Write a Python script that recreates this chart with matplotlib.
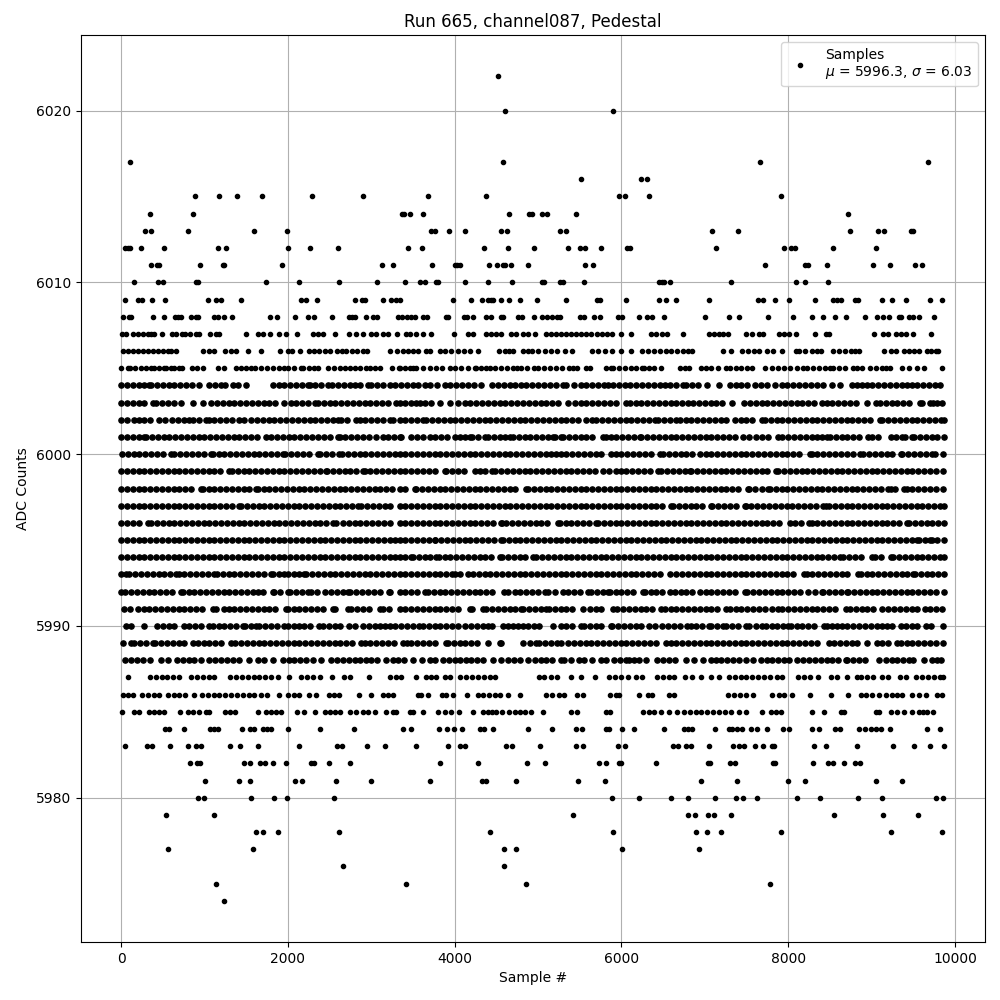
import matplotlib
matplotlib.use("Agg")
import matplotlib.pyplot as plt

# Sample numbers, per ADC level. Where a row is an unbroken band
# the individual samples cannot be told apart, so those rows hold one read position
# about every 70 samples rather than every real sample.
s6022 = [4520]
s6020 = [4604, 5904]
s6017 = [104, 4580, 7656, 9672]
s6016 = [5520, 6240, 6312]
s6015 = [884, 1172, 1388, 1688, 2288, 2900, 3680, 4376, 5976, 6040, 6328, 7908]
s6014 = [344, 860, 3364, 3388, 3464, 3620, 4652, 4892, 4932, 5052, 5112, 5460, 8712]
s6013 = [292, 356, 800, 1592, 1992, 3712, 3760, 3932, 4128, 4552, 4624, 5268, 5340, 7092, 7404, 8736, 9072, 9144, 9472, 9500]
s6012 = [48, 80, 108, 236, 512, 1160, 1256, 2000, 2264, 2600, 3440, 3608, 4352, 4640, 4956, 5364, 5508, 5568, 5760, 6072, 6108, 7140, 7944, 8028, 8076, 8532, 9048]
s6011 = [356, 428, 452, 944, 1220, 1236, 1928, 3128, 3260, 3728, 4008, 4032, 4060, 4412, 4508, 4580, 4604, 4676, 4880, 5568, 5664, 7716, 8196, 8232, 8460, 9012, 9216, 9516, 9600]
s6010 = [152, 440, 500, 896, 920, 1736, 2132, 2612, 3068, 3404, 3584, 3644, 3772, 3796, 4128, 4400, 4688, 5052, 5076, 5268, 5304, 5556, 6456, 6492, 6516, 6588, 7320, 8088, 8196, 8472]
s6009 = [48, 200, 248, 368, 524, 1040, 1136, 1196, 1436, 2156, 2220, 2348, 2804, 2888, 2924, 3140, 3236, 3296, 3344, 3980, 4196, 4328, 4400, 4436, 4460, 4556, 4652, 4784, 4992, 5340, 5712, 5748, 6060, 6456, 6540, 6660, 7056, 7644, 7692, 7836, 8004, 8316, 8532, 8580, 8628, 8796, 8832, 9120, 9240, 9408, 9696, 9840]
s6008 = [20, 100, 120, 380, 512, 648, 684, 720, 836, 896, 920, 1112, 1160, 1232, 1328, 1784, 1868, 2084, 2240, 2312, 2528, 2732, 2768, 2804, 2936, 3020, 3068, 3320, 3368, 3428, 3476, 3524, 3620, 3668, 3900, 3924, 4116, 4152, 4220, 4376, 4436, 4556, 4580, 4760, 4808, 4956, 5052, 5112, 5172, 5232, 5268, 5508, 5552, 5676, 5748, 5964, 6012, 6216, 6312, 6372, 6516, 7008, 7296, 7416, 7752, 8052, 8280, 8412, 8556, 8688, 8916, 9060, 9132, 9204, 9324, 9348, 9444, 9492, 9564, 9744]
s6007 = [12, 60, 140, 200, 260, 320, 360, 400, 492, 612, 660, 732, 772, 828, 900, 932, 1068, 1140, 1172, 1496, 1640, 1700, 1784, 1892, 1980, 2108, 2300, 2360, 2420, 2564, 2732, 2812, 2900, 3000, 3060, 3140, 3200, 3308, 3420, 3460, 3540, 3620, 3720, 3996, 4160, 4220, 4380, 4440, 4500, 4560, 4680, 4740, 4820, 4880, 4968, 5092, 5152, 5212, 5272, 5332, 5392, 5452, 5512, 5572, 5632, 5712, 5772, 5832, 5892, 5992, 6112, 6352, 6420, 6492, 6552, 6740, 7052, 7112, 7172, 7220, 7284, 7492, 7564, 7652, 7692, 7892, 7952, 8012, 8092, 8324, 8452, 8492, 9024, 9132, 9192, 9292, 9352, 9412, 9492, 9716]
s6006 = [20, 80, 140, 200, 260, 320, 380, 440, 500, 560, 600, 660, 980, 1050, 1120, 1250, 1320, 1380, 1520, 1676, 1908, 2000, 2048, 2144, 2252, 2310, 2370, 2440, 2500, 2588, 2650, 2700, 2768, 2830, 2900, 2948, 3228, 3308, 3380, 3440, 3500, 3560, 3652, 3700, 3820, 3890, 3960, 4040, 4110, 4180, 4280, 4532, 4600, 4650, 4700, 4820, 4880, 4930, 5000, 5080, 5150, 5230, 5320, 5410, 5650, 5720, 5800, 5890, 5990, 6120, 6250, 6320, 6390, 6460, 6530, 6600, 6670, 6740, 6800, 6850, 7224, 7320, 7450, 7520, 7590, 7650, 7750, 7820, 7930, 8090, 8130, 8200, 8290, 8340, 8390, 8540, 8610, 8680, 8750, 8800, 8850, 9150, 9230, 9290, 9390, 9450, 9510, 9570, 9670, 9710, 9770, 9800]
s6005 = [0, 80, 108, 170, 240, 300, 360, 400, 460, 520, 540, 600, 640, 690, 730, 850, 910, 980, 1160, 1240, 1380, 1440, 1500, 1560, 1610, 1680, 1750, 1820, 1890, 1950, 2000, 2080, 2160, 2180, 2250, 2310, 2360, 2480, 2550, 2620, 2680, 2740, 2800, 2870, 2940, 2980, 3040, 3100, 3250, 3330, 3340, 3400, 3460, 3500, 3540, 3620, 3700, 3780, 3850, 3940, 4010, 4080, 4160, 4240, 4260, 4320, 4380, 4420, 4490, 4560, 4630, 4700, 4750, 4800, 4870, 4950, 5000, 5070, 5140, 5220, 5290, 5370, 5420, 5470, 5570, 5620, 5820, 5870, 5900, 5970, 6040, 6110, 6180, 6250, 6270, 6330, 6390, 6470, 6700, 6760, 6810, 6960, 7010, 7070, 7160, 7250, 7300, 7370, 7440, 7510, 7570, 7720, 7800, 7880, 7950, 8020, 8100, 8180, 8230, 8300, 8370, 8440, 8500, 8540, 8610, 8680, 8780, 8820, 8890, 8980, 9050, 9120, 9170, 9220, 9370, 9450, 9540, 9625, 9840]
s6004 = [0, 70, 140, 210, 280, 340, 360, 430, 500, 570, 640, 710, 780, 850, 940, 1060, 1130, 1200, 1250, 1340, 1400, 1500, 1820, 1890, 1960, 2030, 2100, 2170, 2240, 2260, 2330, 2400, 2480, 2530, 2600, 2670, 2740, 2800, 2860, 2960, 3000, 3070, 3140, 3220, 3280, 3360, 3430, 3500, 3560, 3640, 3700, 3790, 3880, 3950, 4020, 4090, 4160, 4230, 4320, 4450, 4520, 4590, 4660, 4720, 4800, 4860, 4930, 5000, 5070, 5140, 5210, 5300, 5340, 5430, 5520, 5580, 5650, 5720, 5790, 5840, 5900, 5970, 6040, 6100, 6180, 6250, 6320, 6390, 6460, 6520, 6580, 6660, 6740, 6780, 6850, 6920, 7030, 7170, 7300, 7370, 7440, 7510, 7600, 7670, 7750, 7840, 7920, 7990, 8060, 8130, 8200, 8270, 8340, 8420, 8530, 8620, 8760, 8820, 8880, 8940, 9010, 9080, 9150, 9220, 9290, 9360, 9420, 9480, 9550, 9620, 9690, 9760, 9816]
s6003 = [0, 70, 140, 210, 280, 380, 420, 490, 560, 630, 720, 860, 980, 1080, 1150, 1220, 1290, 1360, 1430, 1500, 1570, 1640, 1710, 1780, 1850, 1960, 2036, 2100, 2170, 2240, 2320, 2360, 2430, 2500, 2570, 2640, 2710, 2780, 2850, 2920, 2990, 3060, 3130, 3200, 3300, 3340, 3410, 3480, 3540, 3580, 3650, 3720, 3820, 3940, 4040, 4120, 4190, 4260, 4330, 4400, 4470, 4540, 4610, 4680, 4750, 4820, 4890, 4960, 5030, 5100, 5170, 5240, 5360, 5440, 5510, 5580, 5650, 5720, 5790, 5860, 5940, 6056, 6100, 6170, 6240, 6310, 6380, 6450, 6520, 6590, 6660, 6730, 6800, 6860, 6930, 7000, 7070, 7140, 7210, 7330, 7470, 7540, 7610, 7680, 7750, 7820, 7890, 7960, 8030, 8100, 8170, 8240, 8310, 8400, 8460, 8530, 8600, 8670, 8740, 8810, 8940, 9050, 9100, 9170, 9240, 9310, 9380, 9450, 9580, 9610, 9700, 9740, 9790, 9850]
s6002 = [0, 70, 160, 220, 280, 350, 460, 524, 610, 680, 750, 820, 868, 940, 1020, 1050, 1120, 1190, 1260, 1330, 1420, 1470, 1560, 1630, 1700, 1770, 1840, 1910, 1980, 2050, 2120, 2190, 2260, 2330, 2400, 2470, 2540, 2600, 2640, 2710, 2820, 2860, 2930, 3000, 3070, 3140, 3220, 3260, 3340, 3410, 3480, 3550, 3620, 3660, 3730, 3800, 3870, 3940, 4010, 4080, 4150, 4220, 4290, 4360, 4430, 4500, 4570, 4640, 4710, 4780, 4850, 4920, 4990, 5060, 5130, 5200, 5270, 5340, 5410, 5480, 5580, 5650, 5700, 5770, 5840, 5910, 5980, 6050, 6120, 6190, 6260, 6330, 6400, 6440, 6510, 6580, 6660, 6700, 6770, 6840, 6910, 6980, 7050, 7120, 7190, 7260, 7360, 7430, 7500, 7570, 7680, 7720, 7790, 7860, 7930, 8000, 8070, 8140, 8210, 8280, 8350, 8420, 8490, 8560, 8630, 8700, 8770, 8840, 8910, 8980, 9100, 9130, 9200, 9270, 9340, 9410, 9480, 9550, 9620, 9690, 9760, 9830, 9865]
s6001 = [0, 70, 140, 210, 280, 300, 370, 440, 510, 580, 650, 720, 790, 860, 930, 1000, 1070, 1140, 1210, 1280, 1350, 1420, 1490, 1560, 1630, 1740, 1800, 1870, 1940, 2010, 2080, 2150, 2220, 2290, 2360, 2430, 2500, 2600, 2620, 2690, 2760, 2830, 2900, 2970, 3060, 3140, 3200, 3270, 3340, 3360, 3480, 3550, 3620, 3700, 3770, 3840, 3910, 4000, 4060, 4120, 4180, 4210, 4280, 4360, 4400, 4470, 4540, 4610, 4660, 4700, 4770, 4840, 4910, 4980, 5050, 5120, 5180, 5200, 5280, 5300, 5370, 5440, 5510, 5580, 5650, 5780, 5820, 5880, 5940, 6010, 6080, 6150, 6220, 6240, 6310, 6380, 6450, 6520, 6590, 6660, 6730, 6800, 6870, 6940, 7010, 7080, 7150, 7220, 7290, 7360, 7460, 7530, 7620, 7690, 7760, 7880, 7930, 8000, 8070, 8140, 8210, 8280, 8350, 8400, 8460, 8500, 8570, 8640, 8700, 8780, 8850, 8960, 9010, 9080, 9230, 9290, 9360, 9400, 9480, 9510, 9580, 9650, 9720, 9790, 9865]
s6000 = [10, 80, 150, 220, 290, 360, 430, 500, 600, 640, 710, 780, 850, 920, 990, 1080, 1100, 1170, 1240, 1310, 1380, 1450, 1520, 1590, 1660, 1730, 1800, 1870, 1940, 1970, 2040, 2110, 2180, 2250, 2360, 2390, 2460, 2530, 2610, 2650, 2720, 2790, 2860, 2930, 3000, 3070, 3140, 3210, 3280, 3340, 3410, 3480, 3550, 3620, 3690, 3760, 3830, 3900, 3970, 4040, 4110, 4180, 4250, 4320, 4390, 4460, 4530, 4600, 4670, 4740, 4810, 4880, 4950, 5020, 5090, 5160, 5220, 5276, 5340, 5410, 5480, 5550, 5620, 5690, 5760, 5880, 5930, 6000, 6070, 6140, 6210, 6280, 6350, 6460, 6500, 6570, 6640, 6710, 6780, 6850, 6940, 7010, 7080, 7150, 7220, 7290, 7360, 7430, 7500, 7570, 7640, 7710, 7780, 7850, 7920, 7990, 8060, 8130, 8260, 8280, 8350, 8420, 8490, 8560, 8630, 8700, 8780, 8860, 8900, 8970, 9040, 9110, 9180, 9250, 9350, 9370, 9440, 9510, 9580, 9650, 9720, 9760, 9860]
s5999 = [0, 70, 140, 210, 280, 350, 420, 490, 560, 630, 700, 770, 840, 910, 980, 1050, 1120, 1190, 1300, 1330, 1400, 1470, 1540, 1610, 1680, 1750, 1820, 1890, 1960, 2030, 2100, 2170, 2240, 2310, 2380, 2460, 2470, 2540, 2610, 2680, 2750, 2820, 2900, 2920, 2990, 3060, 3130, 3200, 3270, 3340, 3410, 3480, 3550, 3620, 3690, 3760, 3880, 3900, 3970, 4040, 4110, 4240, 4300, 4370, 4450, 4490, 4560, 4630, 4700, 4770, 4840, 4910, 4980, 5050, 5120, 5190, 5260, 5330, 5400, 5470, 5540, 5610, 5680, 5780, 5850, 5940, 6000, 6060, 6130, 6200, 6270, 6340, 6440, 6480, 6550, 6620, 6690, 6760, 6820, 6840, 6910, 6980, 7050, 7120, 7190, 7260, 7330, 7400, 7470, 7540, 7610, 7680, 7750, 7850, 7880, 7950, 8020, 8090, 8160, 8230, 8300, 8370, 8440, 8510, 8580, 8650, 8720, 8790, 8860, 8930, 9000, 9070, 9140, 9210, 9280, 9350, 9420, 9490, 9560, 9630, 9700, 9770, 9860]
s5998 = [0, 70, 140, 210, 280, 350, 420, 490, 560, 630, 700, 770, 840, 960, 980, 1050, 1120, 1190, 1260, 1330, 1400, 1470, 1540, 1620, 1640, 1710, 1780, 1850, 1920, 1990, 2060, 2130, 2200, 2270, 2340, 2410, 2480, 2550, 2620, 2690, 2760, 2830, 2900, 2970, 3040, 3110, 3180, 3250, 3340, 3410, 3520, 3540, 3610, 3680, 3750, 3820, 3890, 3960, 4030, 4100, 4170, 4240, 4310, 4380, 4450, 4520, 4590, 4660, 4730, 4860, 4880, 4950, 5020, 5090, 5160, 5230, 5300, 5370, 5440, 5510, 5580, 5650, 5720, 5790, 5860, 5930, 6000, 6070, 6140, 6210, 6280, 6350, 6420, 6490, 6560, 6630, 6700, 6770, 6840, 6910, 6980, 7050, 7120, 7190, 7260, 7330, 7400, 7520, 7530, 7600, 7680, 7760, 7780, 7850, 7920, 7990, 8060, 8130, 8200, 8270, 8340, 8410, 8480, 8550, 8620, 8690, 8760, 8830, 8900, 8970, 9040, 9110, 9200, 9230, 9280, 9390, 9420, 9490, 9560, 9630, 9700, 9770, 9860]
s5997 = [0, 70, 140, 210, 280, 350, 420, 490, 560, 630, 700, 770, 840, 910, 980, 1050, 1120, 1190, 1260, 1330, 1420, 1440, 1510, 1580, 1650, 1720, 1790, 1860, 1930, 2000, 2070, 2140, 2210, 2280, 2350, 2420, 2490, 2560, 2630, 2700, 2770, 2840, 2880, 2950, 3020, 3090, 3160, 3230, 3340, 3410, 3480, 3550, 3620, 3690, 3760, 3830, 3900, 3970, 4040, 4110, 4180, 4250, 4320, 4390, 4460, 4530, 4600, 4670, 4740, 4810, 4880, 4950, 5020, 5090, 5160, 5230, 5300, 5370, 5440, 5510, 5580, 5650, 5720, 5790, 5860, 5930, 6000, 6070, 6140, 6210, 6280, 6350, 6420, 6490, 6600, 6620, 6690, 6760, 6830, 6900, 6970, 7070, 7090, 7160, 7230, 7300, 7370, 7480, 7490, 7560, 7630, 7700, 7770, 7840, 7910, 7980, 8050, 8120, 8190, 8260, 8330, 8420, 8450, 8490, 8560, 8630, 8700, 8770, 8840, 8910, 8980, 9050, 9120, 9190, 9260, 9330, 9400, 9470, 9540, 9610, 9680, 9750, 9820, 9865]
s5996 = [0, 70, 140, 210, 320, 360, 430, 500, 570, 640, 710, 780, 850, 920, 990, 1060, 1130, 1200, 1270, 1340, 1410, 1480, 1550, 1620, 1690, 1760, 1830, 1900, 1970, 2040, 2110, 2180, 2250, 2320, 2390, 2460, 2540, 2580, 2660, 2730, 2800, 2870, 2940, 3010, 3080, 3150, 3220, 3340, 3410, 3480, 3550, 3620, 3690, 3760, 3830, 3900, 3970, 4040, 4110, 4180, 4250, 4320, 4390, 4460, 4560, 4570, 4620, 4690, 4760, 4830, 4900, 4970, 5040, 5110, 5240, 5260, 5330, 5400, 5470, 5540, 5610, 5700, 5720, 5790, 5860, 5930, 6000, 6070, 6140, 6210, 6280, 6350, 6420, 6490, 6560, 6630, 6700, 6770, 6840, 6910, 6980, 7050, 7120, 7190, 7260, 7330, 7400, 7470, 7540, 7610, 7680, 7750, 7820, 7890, 8020, 8080, 8150, 8250, 8280, 8350, 8420, 8490, 8560, 8630, 8700, 8770, 8840, 8910, 8980, 9050, 9120, 9190, 9260, 9330, 9420, 9450, 9520, 9590, 9660, 9730, 9800, 9868]
s5995 = [0, 70, 140, 210, 280, 350, 420, 490, 560, 630, 700, 770, 840, 910, 980, 1050, 1120, 1190, 1260, 1330, 1400, 1470, 1540, 1610, 1680, 1750, 1820, 1890, 1960, 2030, 2100, 2170, 2240, 2310, 2380, 2450, 2520, 2590, 2660, 2730, 2800, 2870, 2940, 3010, 3080, 3150, 3220, 3290, 3340, 3410, 3480, 3550, 3620, 3690, 3760, 3770, 3840, 3910, 3980, 4050, 4120, 4190, 4260, 4330, 4400, 4470, 4560, 4580, 4650, 4720, 4790, 4860, 4930, 5000, 5070, 5140, 5210, 5280, 5350, 5420, 5490, 5560, 5630, 5700, 5770, 5840, 5910, 5980, 6050, 6120, 6190, 6260, 6330, 6400, 6470, 6540, 6610, 6680, 6750, 6820, 6890, 6960, 7030, 7100, 7170, 7240, 7310, 7380, 7450, 7520, 7590, 7660, 7730, 7800, 7870, 7940, 8010, 8080, 8150, 8220, 8290, 8360, 8430, 8500, 8570, 8640, 8710, 8780, 8850, 8920, 8990, 9060, 9130, 9200, 9270, 9340, 9410, 9480, 9550, 9570, 9640, 9700, 9720, 9790, 9868]
s5994 = [0, 70, 140, 210, 280, 350, 420, 490, 560, 630, 700, 770, 840, 910, 980, 1050, 1120, 1190, 1260, 1330, 1400, 1470, 1540, 1610, 1680, 1750, 1820, 1890, 1960, 2030, 2100, 2170, 2240, 2310, 2380, 2450, 2520, 2590, 2660, 2730, 2800, 2870, 2940, 3010, 3080, 3150, 3220, 3290, 3340, 3410, 3480, 3500, 3570, 3640, 3710, 3780, 3810, 3880, 3950, 4020, 4090, 4160, 4230, 4300, 4370, 4440, 4540, 4570, 4640, 4710, 4780, 4850, 4940, 4980, 5050, 5120, 5190, 5260, 5330, 5400, 5470, 5540, 5610, 5680, 5750, 5820, 5890, 5960, 6030, 6100, 6170, 6240, 6310, 6380, 6450, 6520, 6590, 6660, 6730, 6800, 6870, 6940, 7010, 7080, 7150, 7220, 7290, 7360, 7430, 7500, 7570, 7640, 7710, 7780, 7850, 7920, 7990, 8060, 8130, 8200, 8270, 8340, 8410, 8480, 8550, 8620, 8660, 8730, 8800, 8870, 9000, 9040, 9110, 9230, 9260, 9330, 9400, 9470, 9540, 9610, 9680, 9750, 9820, 9868]
s5993 = [0, 60, 100, 170, 240, 310, 380, 450, 520, 590, 660, 690, 760, 830, 900, 970, 1040, 1120, 1150, 1220, 1290, 1360, 1430, 1500, 1570, 1640, 1710, 1800, 1820, 1890, 1960, 2000, 2070, 2140, 2200, 2220, 2290, 2360, 2430, 2500, 2570, 2640, 2710, 2780, 2850, 2920, 2990, 3060, 3130, 3200, 3270, 3340, 3410, 3480, 3550, 3620, 3690, 3760, 3830, 3900, 3970, 4010, 4060, 4160, 4220, 4290, 4360, 4430, 4500, 4570, 4640, 4710, 4780, 4850, 4920, 4990, 5060, 5130, 5200, 5270, 5340, 5410, 5480, 5550, 5620, 5690, 5760, 5830, 5900, 5970, 6040, 6110, 6180, 6250, 6320, 6390, 6460, 6580, 6660, 6730, 6800, 6870, 6940, 7010, 7080, 7150, 7220, 7290, 7360, 7430, 7500, 7570, 7640, 7710, 7780, 7850, 7920, 7990, 8060, 8190, 8220, 8290, 8360, 8430, 8500, 8570, 8640, 8710, 8840, 8870, 8940, 9010, 9080, 9150, 9220, 9290, 9360, 9430, 9500, 9520, 9590, 9660, 9730, 9800, 9870]
s5992 = [0, 50, 120, 190, 260, 330, 400, 470, 540, 610, 720, 740, 810, 880, 950, 1020, 1090, 1160, 1230, 1300, 1370, 1440, 1510, 1580, 1640, 1700, 1820, 1840, 1910, 2000, 2030, 2100, 2170, 2240, 2280, 2350, 2440, 2520, 2590, 2660, 2720, 2750, 2820, 2890, 2960, 3030, 3100, 3210, 3220, 3340, 3410, 3480, 3550, 3640, 3680, 3750, 3820, 3890, 3960, 4030, 4100, 4170, 4240, 4310, 4380, 4450, 4590, 4640, 4720, 4790, 4860, 4930, 5000, 5080, 5120, 5200, 5300, 5360, 5430, 5500, 5600, 5640, 5710, 5780, 5840, 5860, 5930, 6000, 6070, 6140, 6260, 6280, 6350, 6420, 6490, 6580, 6640, 6710, 6780, 6850, 6940, 7010, 7080, 7150, 7220, 7290, 7360, 7480, 7510, 7580, 7650, 7720, 7790, 7860, 7930, 8000, 8070, 8140, 8240, 8320, 8400, 8420, 8490, 8560, 8630, 8700, 8720, 8790, 8860, 8930, 9000, 9070, 9140, 9210, 9280, 9350, 9420, 9490, 9560, 9630, 9700, 9770, 9865]
s5991 = [30, 110, 200, 270, 340, 410, 480, 550, 620, 690, 760, 830, 900, 970, 1100, 1140, 1240, 1290, 1360, 1430, 1500, 1570, 1640, 1710, 1780, 1850, 1980, 2000, 2070, 2140, 2210, 2280, 2350, 2420, 2540, 2570, 2720, 2760, 2830, 2900, 2970, 3100, 3140, 3210, 3340, 3410, 3480, 3550, 3620, 3690, 3760, 3830, 3900, 3970, 4040, 4180, 4210, 4340, 4380, 4450, 4520, 4590, 4660, 4730, 4800, 4820, 4890, 4960, 5030, 5100, 5130, 5200, 5270, 5340, 5410, 5540, 5620, 5690, 5760, 5900, 5944, 6020, 6090, 6160, 6230, 6300, 6370, 6480, 6520, 6590, 6660, 6730, 6800, 6870, 6940, 7010, 7080, 7150, 7260, 7300, 7370, 7440, 7510, 7580, 7650, 7720, 7810, 7880, 7930, 8000, 8070, 8140, 8210, 8280, 8350, 8420, 8490, 8560, 8690, 8740, 8810, 8880, 8950, 9020, 9120, 9200, 9270, 9340, 9410, 9480, 9550, 9640, 9700, 9770, 9850]
s5990 = [60, 120, 280, 430, 500, 570, 640, 760, 820, 890, 960, 1060, 1100, 1170, 1240, 1310, 1380, 1460, 1490, 1560, 1620, 1660, 1730, 1800, 1870, 1950, 2000, 2080, 2130, 2200, 2270, 2370, 2420, 2490, 2560, 2630, 2730, 2804, 2900, 2970, 3040, 3110, 3170, 3220, 3290, 3360, 3430, 3500, 3570, 3620, 3690, 3760, 3830, 3900, 3970, 4040, 4130, 4200, 4270, 4340, 4400, 4448, 4580, 4640, 4700, 4760, 4820, 4880, 4950, 5010, 5180, 5270, 5340, 5410, 5510, 5550, 5620, 5690, 5760, 5870, 5890, 5960, 6030, 6100, 6170, 6240, 6330, 6400, 6490, 6560, 6630, 6700, 6790, 6830, 6900, 6970, 7050, 7080, 7150, 7220, 7260, 7330, 7400, 7490, 7530, 7610, 7690, 7730, 7800, 7870, 7940, 8000, 8030, 8100, 8170, 8240, 8310, 8430, 8470, 8530, 8590, 8640, 8710, 8780, 8850, 8920, 8990, 9060, 9130, 9190, 9250, 9350, 9410, 9480, 9550, 9650, 9710, 9860]
s5989 = [20, 120, 160, 230, 300, 380, 410, 480, 550, 620, 690, 760, 860, 920, 990, 1060, 1130, 1200, 1320, 1370, 1440, 1510, 1580, 1660, 1720, 1790, 1860, 1930, 2000, 2070, 2140, 2210, 2280, 2350, 2420, 2490, 2560, 2630, 2700, 2770, 2880, 2920, 2990, 3060, 3130, 3200, 3270, 3380, 3428, 3480, 3550, 3620, 3690, 3760, 3900, 3920, 3990, 4060, 4130, 4200, 4270, 4400, 4540, 4560, 4820, 4910, 4970, 5010, 5080, 5150, 5230, 5280, 5360, 5430, 5500, 5570, 5640, 5710, 5780, 5850, 5920, 5990, 6060, 6130, 6200, 6270, 6340, 6410, 6530, 6590, 6660, 6730, 6800, 6870, 6940, 7010, 7080, 7150, 7220, 7290, 7360, 7430, 7500, 7570, 7640, 7710, 7780, 7850, 7920, 7990, 8060, 8130, 8200, 8270, 8340, 8490, 8550, 8620, 8690, 8760, 8830, 8950, 9070, 9130, 9200, 9310, 9350, 9420, 9490, 9560, 9630, 9700, 9770, 9860]
s5988 = [44, 120, 190, 260, 344, 476, 560, 668, 740, 810, 880, 960, 1060, 1130, 1200, 1270, 1340, 1410, 1540, 1640, 1720, 1820, 1940, 2010, 2080, 2150, 2220, 2300, 2400, 2520, 2590, 2660, 2730, 2800, 2870, 2940, 3000, 3070, 3180, 3260, 3320, 3392, 3500, 3608, 3700, 3770, 3860, 3930, 4000, 4070, 4140, 4200, 4270, 4340, 4460, 4560, 4640, 4710, 4780, 4880, 4960, 5040, 5090, 5170, 5270, 5310, 5400, 5490, 5550, 5650, 5750, 5820, 5910, 5980, 6050, 6090, 6150, 6210, 6290, 6430, 6500, 6570, 6640, 6770, 6870, 6980, 7080, 7130, 7200, 7270, 7340, 7410, 7490, 7580, 7670, 7740, 7810, 7880, 7950, 8010, 8110, 8180, 8250, 8320, 8390, 8460, 8530, 8600, 8690, 8710, 8780, 8850, 8920, 9090, 9170, 9240, 9310, 9380, 9450, 9500, 9630, 9730, 9780, 9830]
s5987 = [88, 350, 420, 490, 550, 620, 690, 840, 910, 980, 1050, 1120, 1310, 1380, 1450, 1520, 1590, 1660, 1730, 1800, 1880, 2010, 2160, 2230, 2300, 2380, 2530, 2670, 2750, 2970, 3230, 3300, 3360, 3536, 3660, 3720, 3780, 3880, 3940, 4070, 4140, 4210, 4280, 4350, 4420, 4480, 5010, 5070, 5150, 5230, 5400, 5510, 5680, 5850, 5920, 5990, 6080, 6170, 6250, 6430, 6500, 6570, 6630, 6760, 6850, 6960, 7070, 7170, 7290, 7360, 7430, 7500, 7570, 7640, 7710, 7780, 7870, 7930, 8120, 8190, 8260, 8360, 8510, 8590, 8700, 8830, 8870, 8950, 9020, 9130, 9200, 9340, 9410, 9530, 9610, 9680, 9750, 9820, 9860]
s5986 = [20, 80, 140, 248, 320, 390, 450, 560, 630, 700, 770, 880, 970, 1040, 1110, 1180, 1250, 1320, 1390, 1460, 1530, 1600, 1680, 1750, 1890, 2000, 2080, 2130, 2250, 2340, 2490, 2550, 2610, 2850, 3000, 3140, 3200, 3260, 3560, 3600, 3680, 3850, 3900, 3980, 4150, 4280, 4340, 4410, 4480, 4550, 4640, 4784, 5090, 5170, 5250, 5310, 5470, 5540, 5860, 5930, 5970, 6216, 6320, 6370, 6570, 6630, 7280, 7350, 7420, 7490, 7580, 7810, 7890, 7950, 8040, 8260, 8510, 8720, 8870, 8930, 9010, 9090, 9170, 9240, 9300, 9370, 9490, 9570, 9650, 9780, 9850]
s5985 = [8, 160, 210, 330, 390, 450, 510, 704, 800, 860, 930, 1020, 1060, 1250, 1310, 1370, 1640, 1740, 1800, 1860, 1920, 2108, 2192, 2324, 2448, 2500, 2560, 2624, 2750, 2820, 2900, 2960, 3044, 3176, 3260, 3300, 3460, 3500, 3620, 3800, 3884, 3960, 4050, 4216, 4340, 4400, 4450, 4500, 4568, 4650, 4720, 4780, 4840, 4920, 5064, 5390, 5470, 5810, 5860, 6260, 6330, 6390, 6480, 6570, 6672, 6750, 6820, 6890, 6960, 7030, 7100, 7170, 7240, 7310, 7410, 7490, 7690, 7790, 7850, 7910, 8280, 8430, 8630, 8670, 9050, 9090, 9230, 9310, 9390, 9480, 9570, 9620, 9670, 9740]
s5984 = [530, 580, 752, 1070, 1120, 1160, 1448, 1550, 1600, 1700, 1750, 1800, 2000, 2384, 2792, 3380, 3476, 3812, 3908, 3992, 4088, 4300, 4350, 4460, 4880, 5172, 5460, 5532, 5810, 5850, 6012, 6156, 6516, 6750, 6800, 6850, 7128, 7290, 7330, 7390, 7450, 7560, 7632, 7740, 7940, 8010, 8290, 8370, 8560, 8620, 8850, 8920, 8990, 9050, 9110, 9216, 9660, 9816]
s5983 = [44, 308, 368, 584, 800, 904, 960, 1304, 1424, 1640, 2132, 2584, 2648, 2948, 3164, 3536, 3920, 4060, 4120, 4616, 4688, 5028, 5460, 5544, 5964, 6048, 6624, 6684, 6772, 6832, 7056, 7344, 7412, 7476, 7608, 7692, 7800, 7832, 8304, 8448, 8820, 9252, 9504, 9696, 9864]
s5982 = [824, 908, 948, 1480, 1544, 1664, 1724, 1820, 1976, 2280, 2312, 2492, 2744, 3824, 4280, 4868, 5088, 5736, 5820, 5972, 6000, 6420, 7040, 7064, 7304, 7364, 7812, 7844, 8292, 8472, 8532, 8664, 8796, 8856]
s5981 = [1004, 1412, 1544, 2084, 2168, 2576, 2996, 3704, 4328, 4376, 4736, 5484, 5808, 6960, 7392, 7992, 8196, 9048, 9360]
s5980 = [920, 992, 1556, 1832, 1988, 2552, 5892, 6216, 6600, 6804, 7128, 7380, 7464, 7632, 8100, 8376, 8832, 9120, 9768, 9852]
s5979 = [536, 1112, 5424, 6804, 6888, 7044, 7116, 7320, 8544, 9132, 9552]
s5978 = [1616, 1700, 1880, 2612, 4424, 5904, 6900, 7032, 7200, 7908, 9228, 9840]
s5977 = [560, 1580, 4592, 4736, 6012, 6936]
s5976 = [2660, 4592]
s5975 = [1136, 3416, 4856, 7776]
s5974 = [1232]

sparse_rows = [
    (6022, s6022), (6020, s6020), (6017, s6017), (6016, s6016), (6015, s6015), (6014, s6014),
    (6013, s6013), (6012, s6012), (6011, s6011), (6010, s6010), (6009, s6009), (6008, s6008),
    (6007, s6007), (6006, s6006), (6005, s6005), (5987, s5987), (5986, s5986), (5985, s5985),
    (5984, s5984), (5983, s5983), (5982, s5982), (5981, s5981), (5980, s5980), (5979, s5979),
    (5978, s5978), (5977, s5977), (5976, s5976), (5975, s5975), (5974, s5974),
]
band_rows = [
    (6004, s6004), (6003, s6003), (6002, s6002), (6001, s6001), (6000, s6000), (5999, s5999),
    (5998, s5998), (5997, s5997), (5996, s5996), (5995, s5995), (5994, s5994), (5993, s5993),
    (5992, s5992), (5991, s5991), (5990, s5990), (5989, s5989), (5988, s5988),
]

fig, ax = plt.subplots(figsize=(10, 10), dpi=100)
ax.plot([x for level, row in sparse_rows for x in row],
        [level for level, row in sparse_rows for x in row],
        "k.", label="Samples\n$\\mu$ = 5996.3, $\\sigma$ = 6.03")
# The band rows hold fewer points than the original, so they get a slightly wider dot
# to close up as the reference's rows do.
ax.plot([x for level, row in band_rows for x in row],
        [level for level, row in band_rows for x in row],
        "k.", markersize=7.5)
ax.set_xlim(-480, 10360)
ax.set_ylim(5971.6, 6024.4)
ax.set_title("Run 665, channel087, Pedestal")
ax.set_xlabel("Sample #")
ax.set_ylabel("ADC Counts")
ax.grid(True)
ax.legend(loc="upper right")
fig.subplots_adjust(left=0.081, right=0.985, top=0.965, bottom=0.058)
fig.savefig("out.png")
